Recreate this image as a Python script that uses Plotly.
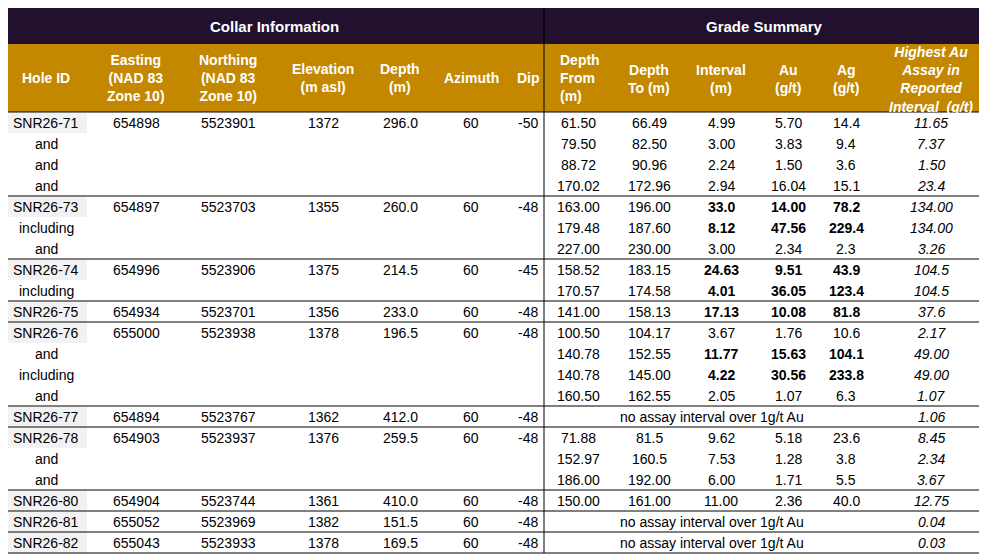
import plotly.graph_objects as go

# ---- data -------------------------------------------------------------
row_labels = ["SNR26-71", "and", "and", "and",
              "SNR26-73", "including", "and",
              "SNR26-74", "including",
              "SNR26-75",
              "SNR26-76", "and", "including", "and",
              "SNR26-77",
              "SNR26-78", "and", "and",
              "SNR26-80", "SNR26-81", "SNR26-82"]

hole_rows = [4, 3, 2, 1, 4, 1, 3, 1, 1, 1]  # rows used by each hole
easting = ["654898", "654897", "654996", "654934", "655000", "654894", "654903", "654904", "655052", "655043"]
northing = ["5523901", "5523703", "5523906", "5523701", "5523938", "5523767", "5523937", "5523744", "5523969", "5523933"]
elevation = ["1372", "1355", "1375", "1356", "1378", "1362", "1376", "1361", "1382", "1378"]
depth = ["296.0", "260.0", "214.5", "233.0", "196.5", "412.0", "259.5", "410.0", "151.5", "169.5"]
azimuth = ["60", "60", "60", "60", "60", "60", "60", "60", "60", "60"]
dip = ["-50", "-48", "-45", "-48", "-48", "-48", "-48", "-48", "-48", "-48"]

depth_from = ["61.50", "79.50", "88.72", "170.02", "163.00", "179.48", "227.00", "158.52", "170.57", "141.00",
              "100.50", "140.78", "140.78", "160.50", None, "71.88", "152.97", "186.00", "150.00", None, None]
depth_to = ["66.49", "82.50", "90.96", "172.96", "196.00", "187.60", "230.00", "183.15", "174.58", "158.13",
            "104.17", "152.55", "145.00", "162.55", None, "81.5", "160.5", "192.00", "161.00", None, None]
interval = ["4.99", "3.00", "2.24", "2.94", "33.0", "8.12", "3.00", "24.63", "4.01", "17.13",
            "3.67", "11.77", "4.22", "2.05", None, "9.62", "7.53", "6.00", "11.00", None, None]
au = ["5.70", "3.83", "1.50", "16.04", "14.00", "47.56", "2.34", "9.51", "36.05", "10.08",
      "1.76", "15.63", "30.56", "1.07", None, "5.18", "1.28", "1.71", "2.36", None, None]
ag = ["14.4", "9.4", "3.6", "15.1", "78.2", "229.4", "2.3", "43.9", "123.4", "81.8",
      "10.6", "104.1", "233.8", "6.3", None, "23.6", "3.8", "5.5", "40.0", None, None]
highest = ["11.65", "7.37", "1.50", "23.4", "134.00", "134.00", "3.26", "104.5", "104.5", "37.6",
           "2.17", "49.00", "49.00", "1.07", "1.06", "8.45", "2.34", "3.67", "12.75", "0.04", "0.03"]
bold_rows = [0, 0, 0, 0, 1, 1, 0, 1, 1, 1, 0, 1, 1, 0, 0, 0, 0, 0, 0, 0, 0]

collar_headers = ["Hole ID", "Easting<br>(NAD 83<br>Zone 10)", "Northing<br>(NAD 83<br>Zone 10)",
                  "Elevation<br>(m asl)", "Depth<br>(m)", "Azimuth", "Dip"]
grade_headers = ["Depth<br>From<br>(m)", "Depth<br>To (m)", "Interval<br>(m)", "Au<br>(g/t)", "Ag<br>(g/t)",
                 "<i>Highest Au<br>Assay in<br>Reported<br>Interval  (g/t)</i>"]
no_assay = "no assay interval over 1g/t Au"

# ---- layout ----------------------------------------------------------
W, H = 987, 556
OFF = 8  # page body margin, so axis units equal page pixels
LEFT, MID, RIGHT = 4, 544, 984
TOP, BAND, HEAD = 7, 44, 112
ROW_H = 21
DARK = "#21112f"
GOLD = "#c38800"
FONT = "Liberation Sans, Arial, sans-serif"

collar_x = [46, 136, 228, 323, 400, 471, 528]
grade_x = [578, 649, 721, 788, 846, 931]

fig = go.Figure()
shapes = []
ann = []


def text(x, y, s, size=14, color="black", anchor="center", align="center"):
    ann.append(dict(x=x, y=y, text=s, showarrow=False, xref="x", yref="y",
                    xanchor=anchor, yanchor="middle", align=align,
                    font=dict(family=FONT, size=size, color=color)))


# header bands
shapes.append(dict(type="rect", x0=LEFT, x1=RIGHT, y0=TOP, y1=BAND, fillcolor=DARK, line_width=0, layer="below"))
shapes.append(dict(type="rect", x0=LEFT, x1=RIGHT, y0=BAND, y1=HEAD, fillcolor=GOLD, line_width=0, layer="below"))
text((LEFT + MID) / 2, (TOP + BAND) / 2 + 1, "<b>Collar Information</b>", size=15, color="white")
text((MID + RIGHT) / 2, (TOP + BAND) / 2 + 1, "<b>Grade Summary</b>", size=15, color="white")

for x, h in zip(collar_x, collar_headers):
    text(x, (BAND + HEAD) / 2, "<b>" + h + "</b>", color="white")
for i, (x, h) in enumerate(zip(grade_x, grade_headers)):
    if i == 0:
        text(558, (BAND + HEAD) / 2, "<b>" + h + "</b>", color="white", anchor="left", align="left")
    else:
        text(x, (BAND + HEAD) / 2 + 1, "<b>" + h + "</b>", color="white")

n_rows = len(row_labels)
bottom = HEAD + ROW_H * n_rows


def row_y(i):
    return HEAD + ROW_H * i + ROW_H / 2 + 0.5


# hole id column
for i, lab in enumerate(row_labels):
    if lab.startswith("SNR"):
        shapes.append(dict(type="rect", x0=LEFT + 1, x1=87, y0=HEAD + ROW_H * i + 1, y1=HEAD + ROW_H * (i + 1),
                           fillcolor="#f2f2f2", line_width=0, layer="below"))
    text(collar_x[0], row_y(i), lab)

# collar values, one row per hole
start = 0
for k, n in enumerate(hole_rows):
    vals = [easting[k], northing[k], elevation[k], depth[k], azimuth[k], dip[k]]
    for x, v in zip(collar_x[1:], vals):
        text(x, row_y(start), v)
    start += n
    if start < n_rows:
        y = HEAD + ROW_H * start
        shapes.append(dict(type="line", x0=LEFT, x1=RIGHT, y0=y, y1=y, line=dict(color="black", width=1)))

# grade values
for i in range(n_rows):
    y = row_y(i)
    if depth_from[i] is None:
        text(712, y, no_assay)
    else:
        plain = [depth_from[i], depth_to[i]]
        strong = [interval[i], au[i], ag[i]]
        for x, v in zip(grade_x[:2], plain):
            text(x, y, v)
        for x, v in zip(grade_x[2:5], strong):
            text(x, y, "<b>" + v + "</b>" if bold_rows[i] else v)
    text(grade_x[5], y, "<i>" + highest[i] + "</i>")

# borders
line = dict(color="black", width=1)
shapes.append(dict(type="line", x0=LEFT, x1=RIGHT, y0=HEAD, y1=HEAD, line=line))
shapes.append(dict(type="line", x0=LEFT, x1=RIGHT, y0=bottom, y1=bottom, line=line))
shapes.append(dict(type="line", x0=LEFT, x1=LEFT, y0=TOP, y1=bottom, line=line))
shapes.append(dict(type="line", x0=RIGHT, x1=RIGHT, y0=TOP, y1=bottom, line=line))
shapes.append(dict(type="line", x0=MID, x1=MID, y0=TOP, y1=bottom, line=line))

fig.update_layout(
    width=W - OFF, height=H - OFF, autosize=False,
    margin=dict(l=0, r=0, t=0, b=0, pad=0),
    paper_bgcolor="white", plot_bgcolor="white",
    xaxis=dict(range=[OFF, W], visible=False, fixedrange=True),
    yaxis=dict(range=[H, OFF], visible=False, fixedrange=True),
    shapes=shapes, annotations=ann, showlegend=False,
)

fig.write_html("out.html", config={"displayModeBar": False})
